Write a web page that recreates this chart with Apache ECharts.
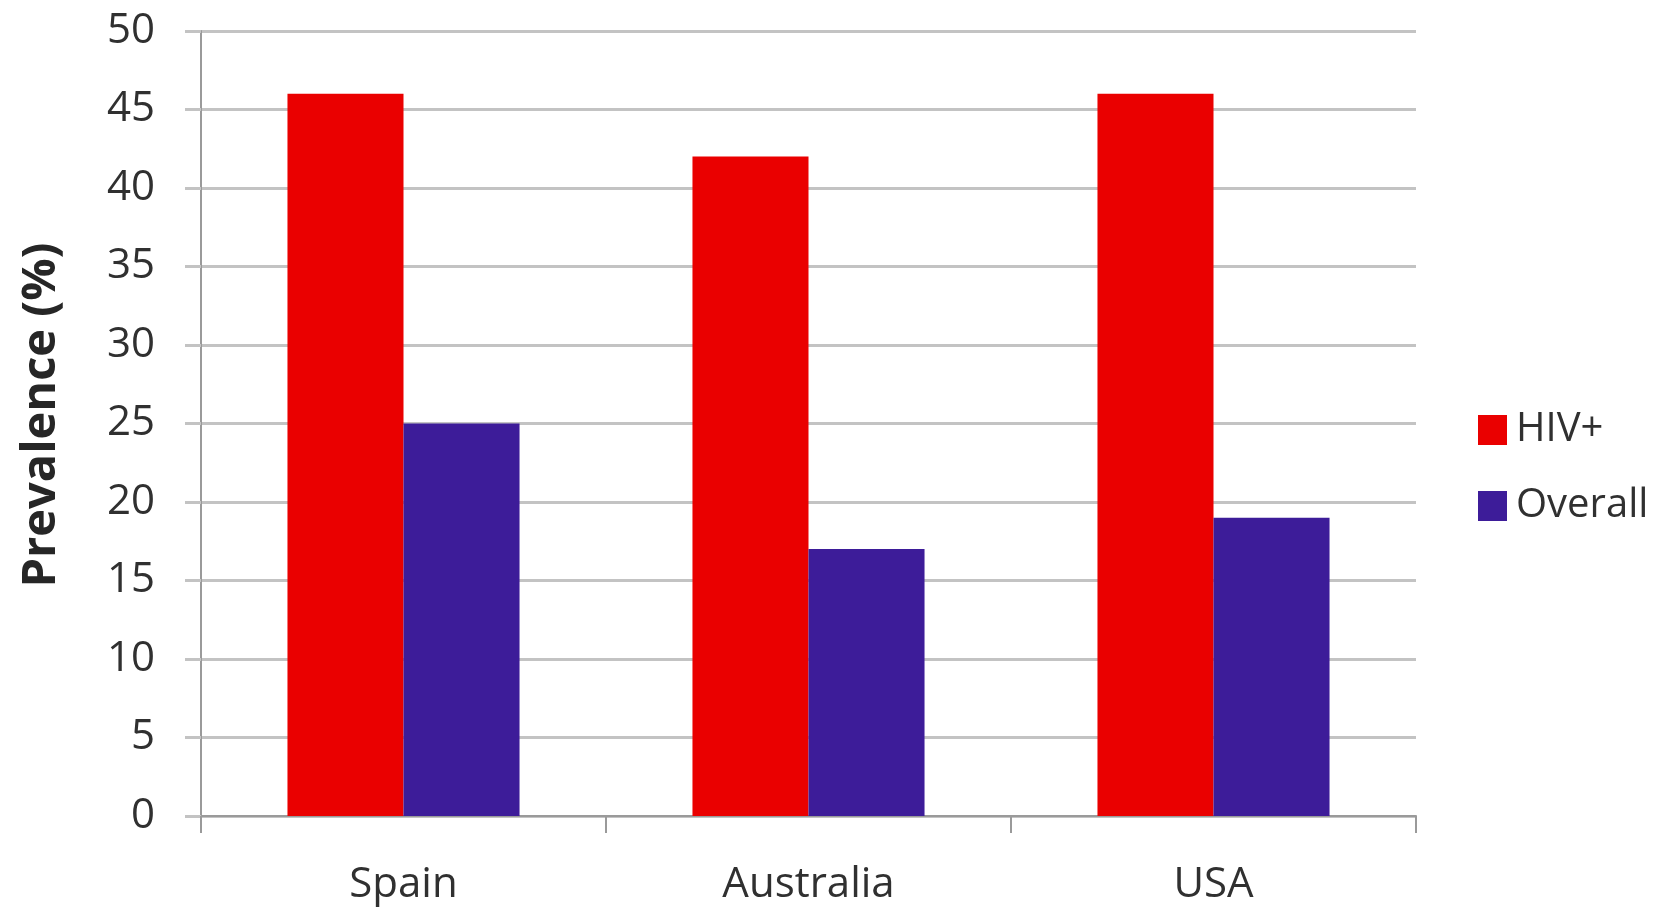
<!DOCTYPE html>
<html>
<head>
<meta charset="utf-8">
<script src="https://cdn.jsdelivr.net/npm/echarts@6/dist/echarts.min.js"></script>
<style>
  html, body { margin: 0; padding: 0; background: #ffffff; }
  #chart { width: 1657px; height: 910px; }
</style>
</head>
<body>
<div id="chart"></div>
<script>
// Prevalence by country, HIV+ group vs overall population
const countries = ['Spain', 'Australia', 'USA'];
const hivPositive = [46, 42, 46];
const overall = [25, 17, 19];
const seriesNames = ['HIV+', 'Overall'];

const FONT = '"Open Sans", "Noto Sans", sans-serif';
const GRID_GRAY = '#c3c3c3';
const AXIS_GRAY = '#9a9a9a';
const TEXT = '#303030';

const chart = echarts.init(document.getElementById('chart'));
chart.setOption({
  animation: false,
  backgroundColor: '#ffffff',
  grid: { left: 201, right: 241, top: 31, bottom: 94, containLabel: false },
  legend: {
    orient: 'vertical',
    left: 1473,
    top: 405,
    itemWidth: 29,
    itemHeight: 30,
    itemGap: 36,
    icon: 'rect',
    textStyle: { fontFamily: FONT, fontSize: 40, color: TEXT, padding: [0, 0, 0, 4] },
    data: seriesNames
  },
  xAxis: {
    type: 'category',
    data: countries,
    axisLine: { lineStyle: { color: AXIS_GRAY, width: 2 } },
    axisTick: { show: true, length: 17, lineStyle: { color: AXIS_GRAY, width: 2 } },
    axisLabel: { fontFamily: FONT, fontSize: 42, color: TEXT, margin: 48 },
    splitLine: { show: false }
  },
  yAxis: {
    type: 'value',
    min: 0,
    max: 50,
    interval: 5,
    name: 'Prevalence (%)',
    nameLocation: 'middle',
    nameGap: 136,
    nameTextStyle: {
      fontFamily: FONT, fontSize: 47, fontWeight: 'bold', color: '#262626',
      padding: [0, 0, 0, 17]
    },
    axisLine: { show: true, lineStyle: { color: AXIS_GRAY, width: 2 } },
    axisTick: { show: true, length: 16, lineStyle: { color: GRID_GRAY, width: 3 } },
    axisLabel: { fontFamily: FONT, fontSize: 42, color: TEXT, margin: 46 },
    splitLine: { show: true, lineStyle: { color: GRID_GRAY, width: 3 } }
  },
  series: [
    {
      name: seriesNames[0],
      type: 'bar',
      data: hivPositive,
      itemStyle: { color: '#ea0000' },
      barGap: '0%',
      barCategoryGap: '42.7%'
    },
    {
      name: seriesNames[1],
      type: 'bar',
      data: overall,
      itemStyle: { color: '#3d1c99' },
      barGap: '0%',
      barCategoryGap: '42.7%'
    }
  ]
});
</script>
</body>
</html>
